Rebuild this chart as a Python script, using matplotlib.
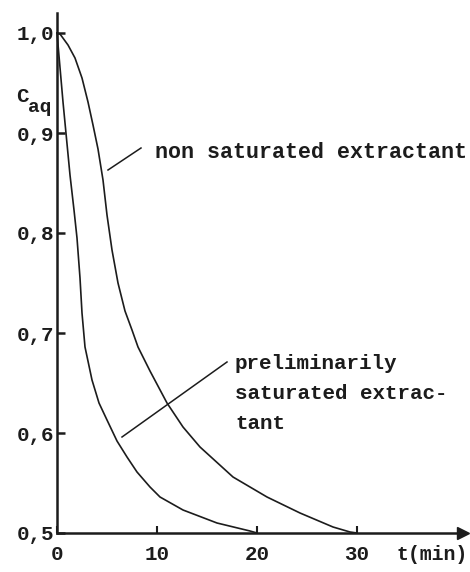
import matplotlib
matplotlib.use("Agg")
import matplotlib.pyplot as plt

# time (min) and relative aqueous concentration
t_non_sat = [0, 0.3, 1.1, 1.8, 2.5, 3.1, 3.6, 4.1, 4.6, 5.0, 5.5, 6.1, 6.8,
             7.5, 8.1, 9.3, 11.0, 12.6, 14.3, 17.6, 21.0, 24.3, 27.6, 29.3, 30.0]
c_non_sat = [1.0, 0.999, 0.988, 0.975, 0.955, 0.931, 0.908, 0.884, 0.853, 0.818,
             0.783, 0.75, 0.722, 0.703, 0.686, 0.662, 0.63, 0.606, 0.586, 0.556,
             0.536, 0.52, 0.506, 0.501, 0.5]

t_pre_sat = [0, 0.6, 1.3, 1.7, 2.0, 2.3, 2.5, 2.8, 3.5, 4.2, 5.0, 6.0,
             7.0, 8.0, 9.3, 10.3, 12.6, 16.0, 19.3, 20.0]
c_pre_sat = [1.0, 0.931, 0.858, 0.823, 0.795, 0.755, 0.72, 0.686, 0.653, 0.63,
             0.613, 0.592, 0.576, 0.561, 0.546, 0.536, 0.523, 0.51, 0.502, 0.5]

x_ticks = [0, 10, 20, 30]
x_labels = ["0", "10", "20", "30"]
y_ticks = [0.5, 0.6, 0.7, 0.8, 0.9, 1.0]
y_labels = ["0,5", "0,6", "0,7", "0,8", "0,9", "1,0"]

FONT = "Liberation Mono"
INK = "#1c1c1c"
plt.rcParams["font.family"] = [FONT, "DejaVu Sans Mono"]
plt.rcParams["font.weight"] = "bold"

fig = plt.figure(figsize=(4.7, 5.72), dpi=100)
ax = fig.add_axes([57 / 470, 39 / 572, 406 / 470, 520 / 572])
ax.set_xlim(0, 40.6)
ax.set_ylim(0.5, 1.02)

ax.plot(t_non_sat, c_non_sat, color=INK, lw=1.2, clip_on=False)
ax.plot(t_pre_sat, c_pre_sat, color=INK, lw=1.2, clip_on=False)

for s in ["top", "right"]:
    ax.spines[s].set_visible(False)
for s in ["left", "bottom"]:
    ax.spines[s].set_linewidth(1.8)
    ax.spines[s].set_color(INK)

# arrow head on the time axis
ax.plot([1], [0], marker=">", ms=8, color=INK, transform=ax.transAxes, clip_on=False)

ax.set_xticks(x_ticks)
ax.set_xticklabels(x_labels)
ax.set_yticks(y_ticks)
ax.set_yticklabels(y_labels)
ax.tick_params(axis="x", direction="in", length=5, width=1.5, pad=9,
               labelsize=15, colors=INK)
ax.tick_params(axis="y", direction="in", length=6, width=1.8, pad=2,
               labelsize=15, colors=INK)

# leader lines and annotations
ax.plot([5.1, 8.4], [0.863, 0.885], color=INK, lw=1.1)
ax.text(9.8, 0.881, "non saturated extractant", fontsize=15.6, color=INK,
        va="center", ha="left")

ax.plot([6.5, 17.0], [0.596, 0.671], color=INK, lw=1.1)
ax.text(17.8, 0.679, "preliminarily\nsaturated extrac-\ntant", fontsize=15,
        color=INK, va="top", ha="left", linespacing=1.75)

fig.text(396 / 470, 1 - 555 / 572, "t(min)", fontsize=14.3, color=INK,
         va="center", ha="left")
fig.text(16 / 470, 1 - 97 / 572, "C", fontsize=15, color=INK,
         va="center", ha="left")
fig.text(28 / 470, 1 - 108 / 572, "aq", fontsize=14, color=INK,
         va="center", ha="left")

fig.savefig("out.png", dpi=100)
